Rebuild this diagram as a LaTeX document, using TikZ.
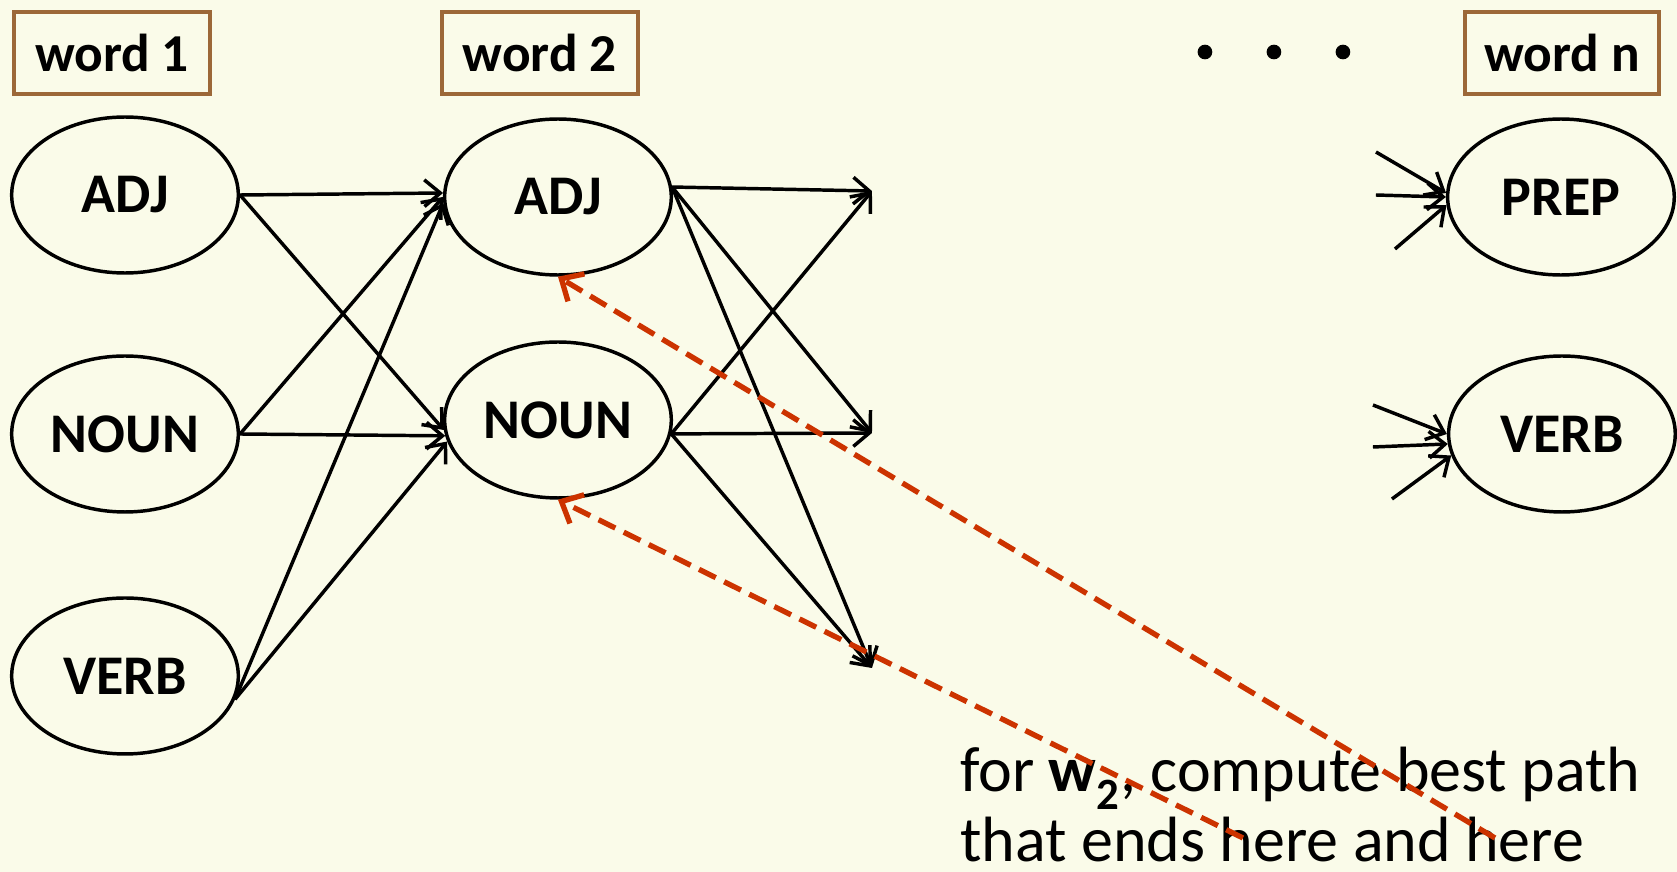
\documentclass[tikz,border=0pt]{standalone}
\usepackage{fontspec}
\setmainfont{Carlito}
\usetikzlibrary{shapes.geometric,arrows.meta}
\definecolor{slidebg}{RGB}{250,251,233}
\definecolor{boxbrown}{RGB}{156,104,56}
\definecolor{pathred}{RGB}{204,51,0}
\tikzset{
  postag/.style={ellipse,draw,line width=2.6pt,minimum width=170pt,minimum height=117pt,inner sep=0pt,font=\fontsize{42}{48}\selectfont\bfseries},
  wordbox/.style={draw=boxbrown,line width=3pt,minimum width=147pt,minimum height=62pt,inner sep=0pt,font=\fontsize{40}{48}\selectfont\bfseries},
  link/.style={line width=2.6pt,-{Straight Barb[length=12pt,width=20pt]}},
  best/.style={pathred,line width=4pt,dash pattern=on 14pt off 7pt,-{Straight Barb[length=13pt,width=24pt]}},
  note/.style={anchor=base west,inner sep=0pt,font=\fontsize{48}{56}\selectfont}
}
\begin{document}
\begin{tikzpicture}[x=0.75pt,y=-0.75pt]
\fill[slidebg] (0,0) rectangle (1677,872);
% word headers
\node[wordbox] (w1) at (112,53) {word 1};
\node[wordbox] (w2) at (540,53) {word 2};
\node[wordbox,minimum width=145pt] (wn) at (1562,53) {word n};
\foreach \x in {1205,1274,1343}{\fill (\x,52) circle (5.5pt);}
% tags
\node[postag] (adj1) at (125,195) {ADJ};
\node[postag] (noun1) at (125,434) {NOUN};
\node[postag] (verb1) at (125,676) {VERB};
\node[postag] (adj2) at (558,197) {ADJ};
\node[postag] (noun2) at (558,420) {NOUN};
\node[postag] (prepn) at (1561,197) {PREP};
\node[postag] (verbn) at (1562,434) {VERB};
% word 1 -> word 2
\foreach \s/\a/\b in {adj1.east/178.5/185,noun1.east/180.5/188,verb1.-12/183/191}{
  \draw[link] (\s) -- (adj2.\a);
  \draw[link] (\s) -- (noun2.\b);}
% word 2 -> next word
\coordinate (t1) at (872,191);
\coordinate (t2) at (872,433);
\coordinate (t3) at (872,668);
\foreach \s in {adj2.5,noun2.-7}
  \foreach \t in {t1,t2,t3}
    \draw[link] (\s) -- (\t);
% into word n
\coordinate (p1) at (1376,152);
\coordinate (p2) at (1376,195);
\coordinate (p3) at (1395,249);
\coordinate (v1) at (1373,405);
\coordinate (v2) at (1373,447);
\coordinate (v3) at (1392,499);
\foreach \c/\a in {p1/178,p2/180,p3/184}{\draw[link] (\c) -- (prepn.\a);}
\foreach \c/\a in {v1/180,v2/185,v3/191}{\draw[link] (\c) -- (verbn.\a);}
% note
\node[note] (note1) at (960,792) {for \textbf{w\textsubscript{2}}, compute best path};
\node[note] (note2) at (960,862) {that ends here and here};
\coordinate (hereA) at (1495,838);
\coordinate (hereB) at (1243,838);
\draw[best] (hereA) -- (adj2.south);
\draw[best] (hereB) -- (noun2.south);
\end{tikzpicture}
\end{document}
